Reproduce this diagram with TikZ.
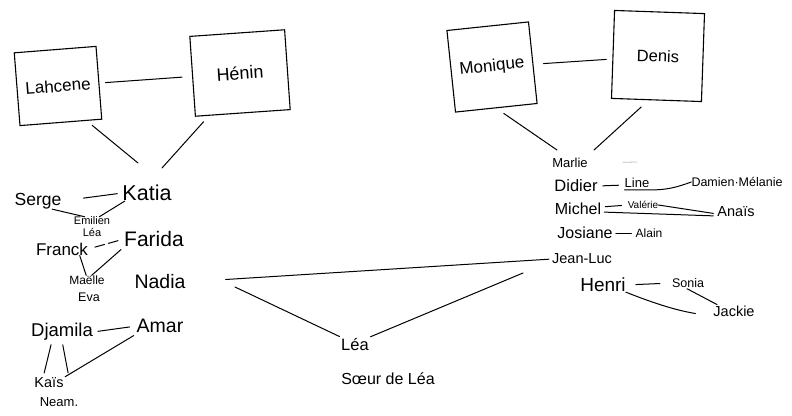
\documentclass[tikz,border=0pt]{standalone}
\usepackage{fontspec}
\setmainfont{Liberation Sans}

\newcommand\fsz[1]{\fontsize{#1}{#1}\selectfont}

\tikzset{
  pers/.style={inner sep=0pt},
  fam/.style={draw, line width=1.1pt, inner sep=0pt},
  link/.style={line width=1pt},
  faint/.style={line width=0.8pt, black!25},
}

\begin{document}
\begin{tikzpicture}[x=1pt, y=-1pt, line cap=round]
  \useasboundingbox (0,0) rectangle (792,415);

  % left couple
  \node[fam, minimum width=82pt, minimum height=73pt, rotate=4.5, font=\fsz{17}] (lah) at (58,86) {Lahcene};
  \node[fam, minimum width=95pt, minimum height=80pt, rotate=4, font=\fsz{18}] (hen) at (240,73) {Hénin};
  \coordinate (lk) at (138,163);
  \coordinate (hk) at (162,168);
  \draw[link, shorten <=6pt, shorten >=10pt] (lah) -- (hen);
  \draw[link, shorten <=7pt] (lah.-55) -- (lk);
  \draw[link, shorten <=8pt] (hen.-130) -- (hk);

  % their children
  \node[pers, font=\fsz{21.5}] (katia) at (147,193) {Katia};
  \node[pers, font=\fsz{17.5}] (serge) at (38,201) {Serge};
  \node[pers, font=\fsz{11}] (emil) at (92,221) {Emilien};
  \node[pers, font=\fsz{11}] (lea1) at (92,233) {Léa};
  \node[pers, font=\fsz{17}] (franck) at (62,249) {Franck};
  \node[pers, font=\fsz{21}] (farida) at (154,239) {Farida};
  \node[pers, font=\fsz{12}] (val2) at (87,280) {Maëlle};
  \node[pers, font=\fsz{12.5}] (eva) at (89,297) {Eva};
  \node[pers, font=\fsz{19.5}] (nadia) at (160,282) {Nadia};
  \node[pers, font=\fsz{18.5}] (djamila) at (62,332) {Djamila};
  \node[pers, font=\fsz{19.5}] (amar) at (160,326) {Amar};
  \node[pers, font=\fsz{14.5}] (kais) at (49,383) {Kaïs};
  \node[pers, font=\fsz{13}] (neam) at (59,402) {Neam.};

  \draw[link, shorten <=22pt, shorten >=5pt] (serge.east) -- (katia.west);
  \draw[link] (serge.-30) -- (emil.150);
  \draw[link] (katia.-160) -- (emil.30);
  \draw[link, dash pattern=on 10pt off 4pt, shorten <=7pt, shorten >=4pt] (franck.east) -- (farida.west);
  \draw[link] (franck.-20) -- (val2.100);
  \draw[link, shorten <=4pt] (farida.south west) -- (val2.45);
  \draw[link, shorten <=5pt, shorten >=7pt] (djamila.east) -- (amar.west);
  \draw[link, shorten <=4pt, shorten >=5pt] ([xshift=-10pt]djamila.south) -- ([xshift=-6pt]kais.north);
  \draw[link, shorten <=4pt, shorten >=5pt] (djamila.south) -- ([xshift=20pt]kais.north);
  \draw[link, shorten <=5pt, shorten >=2pt] ([xshift=-22pt]amar.south) -- (kais.20);

  % right couple
  \node[fam, minimum width=82pt, minimum height=82pt, rotate=6, font=\fsz{17}] (mon) at (492,67) {Monique};
  \node[fam, minimum width=90pt, minimum height=88pt, rotate=-2, font=\fsz{16.5}] (den) at (658,56) {Denis};
  \coordinate (mk) at (557,150);
  \coordinate (dk) at (594,150);
  \draw[link, shorten <=10pt, shorten >=6pt] (mon) -- (den);
  \draw[link, shorten <=9pt] (mon.-90) -- (mk);
  \draw[link, shorten <=10pt] (den.-100) -- (dk);

  % their children
  \node[pers, font=\fsz{13}] (marlie) at (570,163) {Marlie};
  \node[pers, font=\fsz{16.5}] (didier) at (576,186) {Didier};
  \node[pers, font=\fsz{13}] (line) at (637,183) {Line};
  \node[pers, font=\fsz{12.5}] (damien) at (737,182) {Damien·Mélanie};
  \node[pers, font=\fsz{16}] (michel) at (578,209) {Michel};
  \node[pers, font=\fsz{10}] (val) at (643,205) {Valérie};
  \node[pers, font=\fsz{14.5}] (anais) at (736,212) {Anaïs};
  \node[pers, font=\fsz{16}] (josiane) at (585,233) {Josiane};
  \node[pers, font=\fsz{12}] (alain) at (649,233) {Alain};
  \node[pers, font=\fsz{14.5}] (jean) at (582,259) {Jean-Luc};
  \node[pers, font=\fsz{19}] (henri) at (603,285) {Henri};
  \node[pers, font=\fsz{12.5}] (sonia) at (688,283) {Sonia};
  \node[pers, font=\fsz{14.5}] (jackie) at (734,311) {Jackie};

  \coordinate (mx) at (637,162);
  \draw[faint, shorten <=35pt] (marlie.east) -- (mx);
  \draw[link, shorten <=5pt, shorten >=6pt] (didier.east) -- ([yshift=-2pt]line.west);
  \draw[link] ([yshift=-2pt]line.south west) -- ([yshift=-2pt]line.south east) to[out=0, in=200] (damien.west);
  \draw[link, shorten <=4pt, shorten >=6pt] ([yshift=2pt]michel.east) -- ([yshift=0pt]val.west);
  \draw[link, shorten <=3pt, shorten >=4pt] ([yshift=-3pt]michel.east) -- ([yshift=-4pt]anais.west);
  \draw[link, shorten >=4pt] (val.east) -- ([yshift=-2pt]anais.west);
  \draw[link, shorten <=3pt, shorten >=4pt] (josiane.east) -- (alain.west);
  \draw[link, shorten <=10pt, shorten >=12pt] (henri.east) -- (sonia.west);
  \draw[link, shorten <=2pt, shorten >=2pt] (sonia.-120) -- (jackie.160);
  \draw[link, shorten >=18pt] (henri.south east) to[bend right=6] (jackie.south west);

  % the two families meet
  \node[pers, font=\fsz{16.5}] (lea) at (355,345) {Léa};
  \node[pers, font=\fsz{16}] (soeur) at (388,379) {Sœur de Léa};
  \coordinate (la) at (235,287);
  \coordinate (lb) at (523,273);
  \draw[link, shorten <=40pt, shorten >=3pt] (nadia.east) -- (jean.west);
  \draw[link, shorten >=5pt] (la) -- (lea.150);
  \draw[link, shorten >=5pt] (lb) -- (lea.30);
\end{tikzpicture}
\end{document}
